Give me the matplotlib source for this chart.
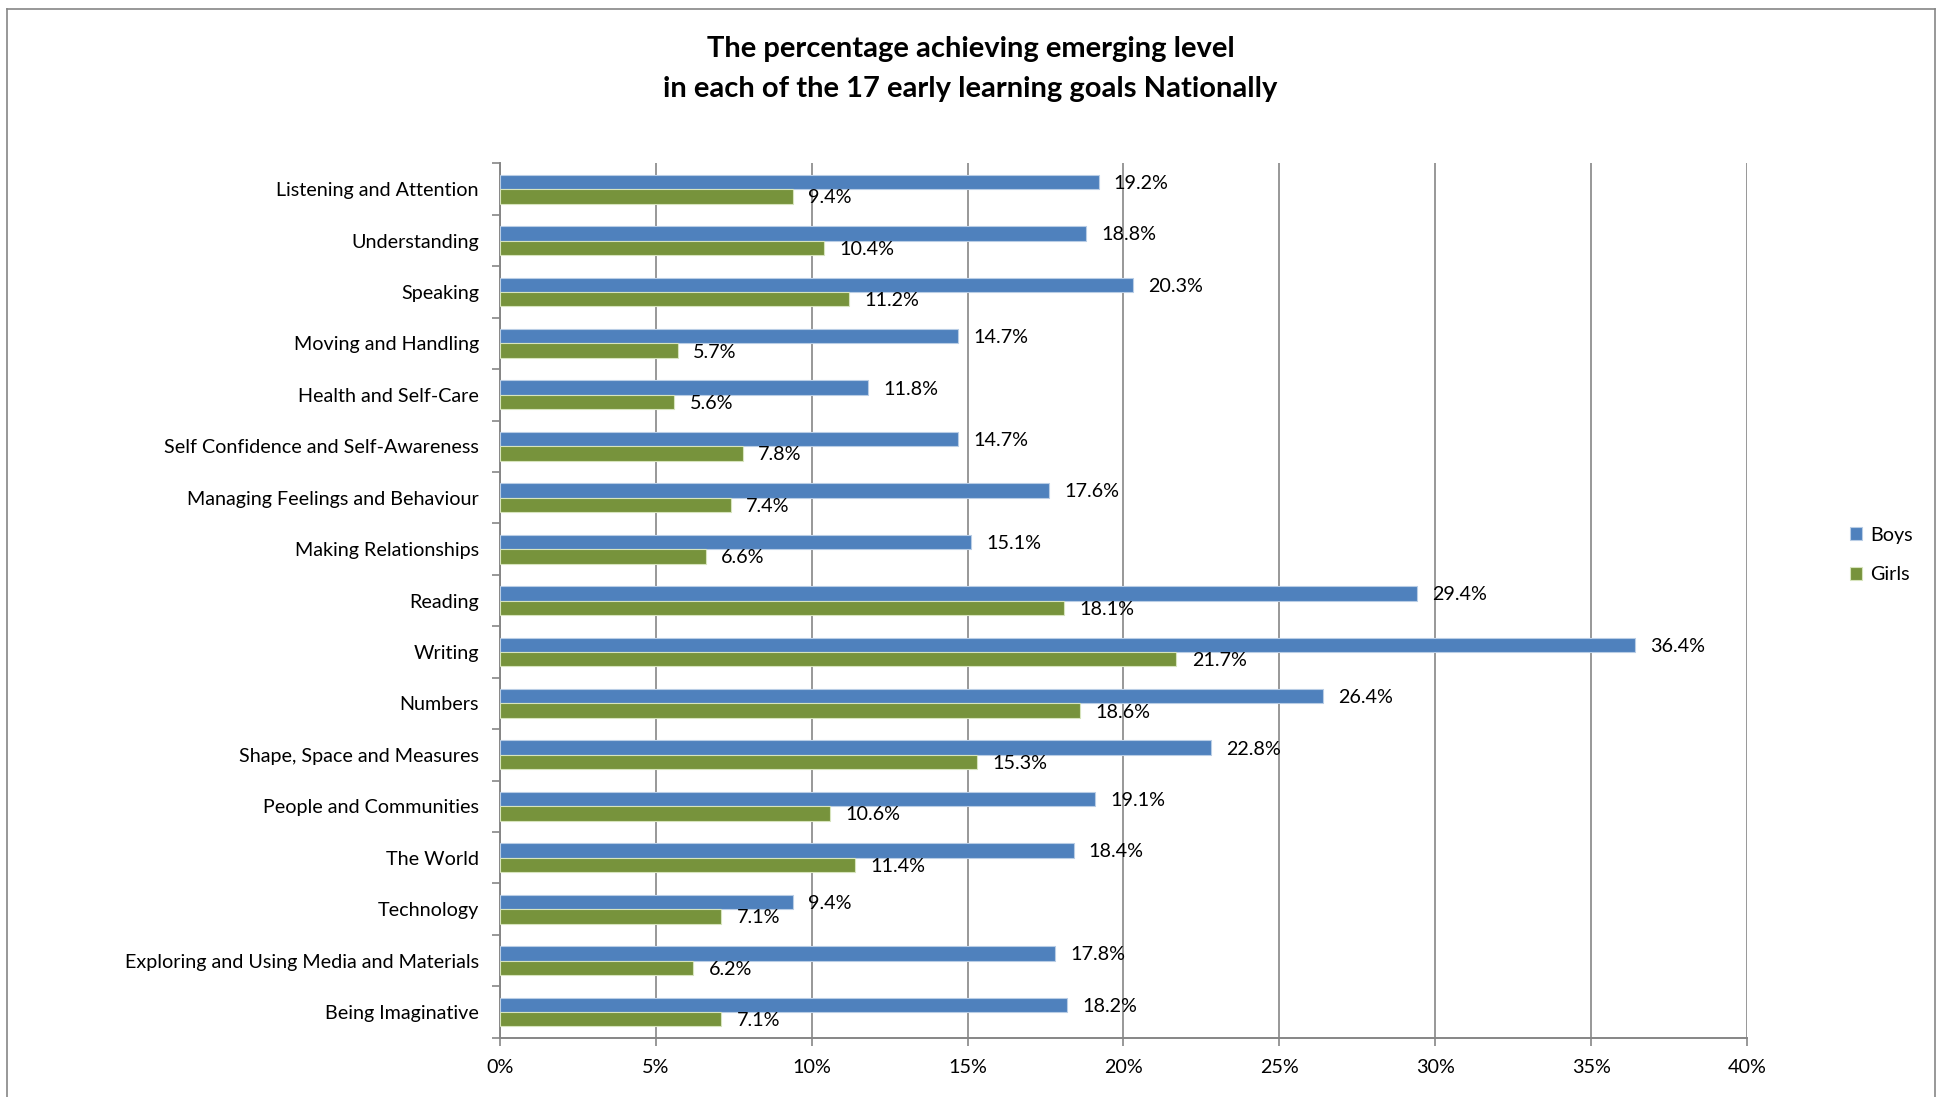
import numpy as np
import matplotlib
matplotlib.use('Agg')
import matplotlib.pyplot as plt
from matplotlib.lines import Line2D

# data
goals = ['Listening and Attention', 'Understanding', 'Speaking', 'Moving and Handling',
         'Health and Self-Care', 'Self Confidence and Self-Awareness',
         'Managing Feelings and Behaviour', 'Making Relationships', 'Reading', 'Writing',
         'Numbers', 'Shape, Space and Measures', 'People and Communities', 'The World',
         'Technology', 'Exploring and Using Media and Materials', 'Being Imaginative']
boys = [19.2, 18.8, 20.3, 14.7, 11.8, 14.7, 17.6, 15.1, 29.4, 36.4, 26.4, 22.8, 19.1, 18.4, 9.4, 17.8, 18.2]
girls = [9.4, 10.4, 11.2, 5.7, 5.6, 7.8, 7.4, 6.6, 18.1, 21.7, 18.6, 15.3, 10.6, 11.4, 7.1, 6.2, 7.1]
x_ticks = [0, 5, 10, 15, 20, 25, 30, 35, 40]

plt.rcParams['font.family'] = ['Lato', 'DejaVu Sans']

BLUE = '#4F81BD'
GREEN = '#77933C'
GREY = '#868686'
FS = 14.2

fig = plt.figure(figsize=(19.37, 10.97), dpi=100)
ax = fig.add_axes([0.258, 0.054, 0.644, 0.797])

y = np.arange(len(goals))
h = 0.28
b1 = ax.barh(y - h / 2, boys, height=h, color=BLUE, edgecolor='#B9CDE5', linewidth=0.8, zorder=3, label='Boys')
b2 = ax.barh(y + h / 2, girls, height=h, color=GREEN, edgecolor='#D7E4BD', linewidth=0.8, zorder=3, label='Girls')

# data labels
for yy, v in zip(y, boys):
    ax.annotate(f'{v:.1f}%', (v, yy - h / 2), xytext=(11, -1), textcoords='offset points',
                ha='left', va='center', fontsize=FS)
for yy, v in zip(y, girls):
    ax.annotate(f'{v:.1f}%', (v, yy + h / 2), xytext=(11, -1), textcoords='offset points',
                ha='left', va='center', fontsize=FS)

ax.set_xlim(0, 40)
ax.set_ylim(len(goals) - 0.5, -0.5)
ax.set_xticks(x_ticks)
ax.set_xticklabels([f'{t}%' for t in x_ticks], fontsize=FS)
ax.set_yticks(y)
ax.set_yticklabels(goals, fontsize=FS)
ax.set_yticks(np.arange(len(goals) + 1) - 0.5, minor=True)

ax.tick_params(axis='y', which='major', length=0, pad=15)
ax.tick_params(axis='y', which='minor', length=6, width=1.2, color=GREY)
ax.tick_params(axis='x', length=6, width=1.2, color=GREY, pad=9)

ax.grid(axis='x', color=GREY, linewidth=1.2, zorder=0)
ax.set_axisbelow(True)
for s in ['top', 'right']:
    ax.spines[s].set_visible(False)
for s in ['left', 'bottom']:
    ax.spines[s].set_color(GREY)
    ax.spines[s].set_linewidth(1.4)

# title
fig.text(0.501, 0.955, 'The percentage achieving emerging level', ha='center', va='center',
         fontsize=21, fontweight='bold')
fig.text(0.501, 0.919, 'in each of the 17 early learning goals Nationally', ha='center', va='center',
         fontsize=21, fontweight='bold')

# legend
ax.legend(handles=[b1, b2], loc='center left', bbox_to_anchor=(0.955, 0.494),
          bbox_transform=fig.transFigure, frameon=False, fontsize=FS,
          handlelength=0.62, handleheight=0.62, handletextpad=0.4, labelspacing=1.15,
          borderpad=0, borderaxespad=0)

# chart border
for xs, ys in [([7, 7], [-10, 1088]), ([7, 1935], [1088, 1088]), ([1935, 1935], [-10, 1088])]:
    fig.add_artist(Line2D(np.array(xs) / 1937, np.array(ys) / 1097, color=GREY, linewidth=1.2))

fig.savefig('out.png', dpi=100)
